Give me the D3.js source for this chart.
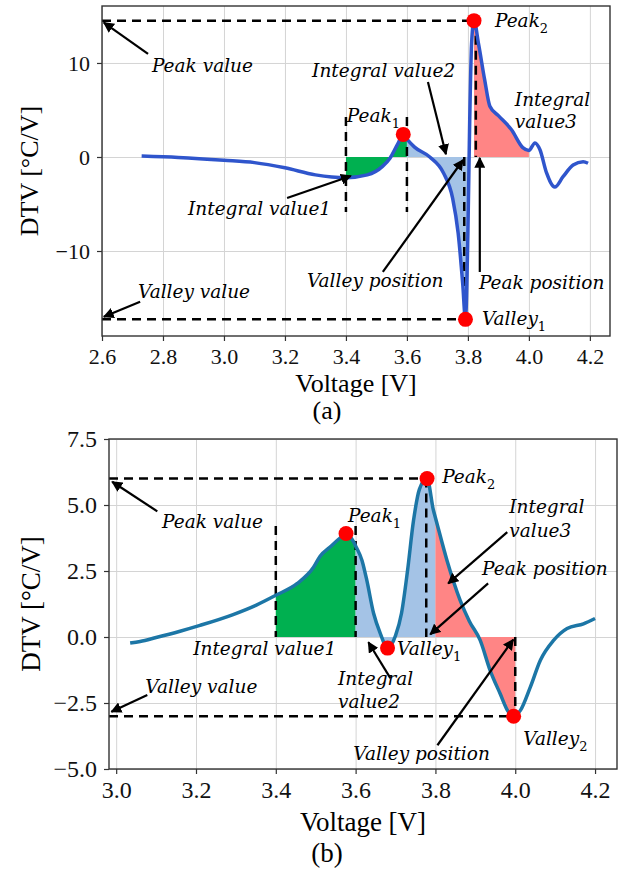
<!DOCTYPE html>
<html>
<head>
<meta charset="utf-8">
<script src="https://cdn.jsdelivr.net/npm/d3@7"></script>
<style>
  body { margin: 0; background: #fff; }
  .grid line { stroke: #d4d4d4; stroke-width: 1; }
  .grid path { display: none; }
  .axis path { display: none; }
  .axis line { stroke: #333; stroke-width: 1.2; }
</style>
</head>
<body>
<div id="chart"></div>
<script>
// ---- panel (a) data ----
const voltA = [2.73, 2.85, 3.0, 3.1, 3.2, 3.3, 3.4, 3.47, 3.52, 3.545, 3.57, 3.588, 3.6, 3.625,
  3.675, 3.72, 3.75, 3.768, 3.783, 3.792, 3.8, 3.806, 3.812, 3.82, 3.835, 3.855, 3.872, 3.9,
  3.943, 3.98, 4.0, 4.02, 4.036, 4.058, 4.085, 4.112, 4.145, 4.178, 4.194];
const dtvA = [0.1, -0.05, -0.35, -0.6, -1.15, -1.9, -2.2, -1.9, -1.0, -0.1, 1.4, 2.4, 1.9, 1.05,
  0.0, -1.7, -4.4, -8.1, -13.5, -17.27, -8, 4, 12, 14.5, 12, 8.2, 5.4, 4.4,
  2.9, 1.0, 0.7, 1.5, 0.8, -1.7, -3.2, -2.1, -0.85, -0.5, -0.67];
const xTicksA = [2.6, 2.8, 3.0, 3.2, 3.4, 3.6, 3.8, 4.0, 4.2];
const yTicksA = [-10, 0, 10];
const markersA = [[3.588, 2.4], [3.82, 14.5], [3.792, -17.27]];
const integralsA = [[3.4, 3.6], [3.6, 3.8], [3.82, 4.0]];
const guidesA = [
  [[2.6, 14.5], [3.82, 14.5]],
  [[2.6, -17.27], [3.792, -17.27]],
  [[3.4, 4.26], [3.4, -5.85]],
  [[3.6, 4.26], [3.6, -5.85]],
  [[3.788, 0], [3.788, -17.27]],
  [[3.826, 14.5], [3.826, 0]],
];
const labelsA = [
  ['Peak value', '', 2.764, 9.04],
  ['Integral value2', '', 3.289, 8.51],
  ['Peak', '1', 3.403, 3.72],
  ['Peak', '2', 3.889, 13.83],
  ['Integral', '', 3.954, 5.43],
  ['value3', '', 3.954, 3.09],
  ['Integral value1', '', 2.882, -6.17],
  ['Valley position', '', 3.272, -13.83],
  ['Peak position', '', 3.836, -14.04],
  ['Valley', '1', 3.846, -17.87],
  ['Valley value', '', 2.718, -15.0],
];
const arrowsA = [
  [2.751, 10.96, 2.606, 14.3],
  [3.669, 7.98, 3.728, 0.3],
  [3.207, -4.36, 3.416, -2.02],
  [3.521, -12.23, 3.784, -0.32],
  [3.839, -12.23, 3.839, -0.1],
  [2.725, -15.4, 2.606, -17.0],
];

// ---- panel (b) data ----
const voltB = [3.035, 3.06, 3.1, 3.16, 3.21, 3.293, 3.35, 3.4, 3.453, 3.495, 3.511, 3.536, 3.561,
  3.576, 3.595, 3.6, 3.616, 3.628, 3.645, 3.662, 3.68, 3.70, 3.715, 3.73, 3.745, 3.76, 3.779,
  3.795, 3.8, 3.829, 3.862, 3.885, 3.912, 3.937, 3.962, 3.983, 3.996, 4.0, 4.013, 4.038,
  4.063, 4.096, 4.13, 4.171, 4.2];
const dtvB = [-0.23, -0.17, -0.02, 0.22, 0.44, 0.85, 1.2, 1.58, 2.02, 2.65, 3.06, 3.41, 3.75,
  3.92, 3.6, 3.45, 2.9, 2.15, 0.9, 0.13, -0.42, 0.05, 0.9, 2.5, 4.4, 5.6, 6.0,
  4.8, 4.52, 2.9, 1.39, 0.6, -0.12, -1.26, -2.14, -2.84, -3.0, -2.98, -2.78, -1.89,
  -0.88, -0.13, 0.32, 0.5, 0.7];
const xTicksB = [3.0, 3.2, 3.4, 3.6, 3.8, 4.0, 4.2];
const yTicksB = [-5, -2.5, 0, 2.5, 5, 7.5];
const markersB = [[3.576, 3.92], [3.779, 6.0], [3.68, -0.42], [3.996, -3.0]];
const integralsB = [[3.4, 3.6], [3.6, 3.8], [3.8, 4.0]];
const guidesB = [
  [[2.982, 6.0], [3.779, 6.0]],
  [[2.982, -3.0], [3.996, -3.0]],
  [[3.4, 4.2], [3.4, 0]],
  [[3.6, 4.2], [3.6, 0]],
  [[3.777, 6.0], [3.777, 0]],
  [[4.0, 0], [4.0, -3.0]],
];
const labelsB = [
  ['Peak value', '', 3.115, 4.12],
  ['Peak', '1', 3.581, 4.34],
  ['Peak', '2', 3.817, 5.84],
  ['Integral', '', 3.985, 4.69],
  ['value3', '', 3.985, 3.78],
  ['Peak position', '', 3.917, 2.34],
  ['Integral value1', '', 3.193, -0.69],
  ['Valley', '1', 3.704, -0.69],
  ['Integral', '', 3.556, -1.83],
  ['value2', '', 3.556, -2.7],
  ['Valley value', '', 3.073, -2.13],
  ['Valley position', '', 3.594, -4.67],
  ['Valley', '2', 4.02, -4.1],
];
const arrowsB = [
  [3.103, 4.76, 2.99, 5.88],
  [3.98, 3.97, 3.832, 2.03],
  [3.932, 2.03, 3.787, 0.1],
  [3.687, -1.56, 3.632, -0.2],
  [3.078, -2.2, 2.988, -2.83],
  [3.805, -4.1, 3.995, -0.1],
];

const fillColors = ['#00b050', '#a4c3e6', '#ff8585'];

const svg = d3.select('#chart').append('svg')
  .attr('width', 626)
  .attr('height', 870);

svg.append('defs').append('marker')
  .attr('id', 'arrow')
  .attr('viewBox', '0 0 10 10')
  .attr('refX', 9)
  .attr('refY', 5)
  .attr('markerWidth', 5)
  .attr('markerHeight', 5)
  .attr('orient', 'auto')
  .append('path')
  .attr('d', 'M0,0 L10,5 L0,10 z')
  .attr('fill', '#000');

const drawPanel = (p) => {
  const width = p.right - p.left;
  const height = p.bottom - p.top;
  const g = svg.append('g').attr('transform', `translate(${p.left},${p.top})`);

  const x = d3.scaleLinear().domain(p.xDomain).range([0, width]);
  const y = d3.scaleLinear().domain(p.yDomain).range([height, 0]);

  // grid
  g.append('g').attr('class', 'grid')
    .attr('transform', `translate(0,${height})`)
    .call(d3.axisBottom(x).tickValues(p.xTicks).tickSize(-height).tickFormat(''));
  g.append('g').attr('class', 'grid')
    .call(d3.axisLeft(y).tickValues(p.yTicks).tickSize(-width).tickFormat(''));

  const pts = p.volt.map((v, i) => [v, p.dtv[i]]);

  // integral fills
  p.integrals.forEach((r, i) => {
    const sub = pts.filter((d) => d[0] >= r[0] - 1e-6 && d[0] <= r[1] + 1e-6);
    g.append('path')
      .datum(sub)
      .attr('fill', fillColors[i])
      .attr('d', d3.area().curve(d3.curveMonotoneX)
        .x((d) => x(d[0])).y0(y(0)).y1((d) => y(d[1])));
  });

  // dashed guides
  p.guides.forEach((l) => {
    g.append('line')
      .attr('x1', x(l[0][0])).attr('y1', y(l[0][1]))
      .attr('x2', x(l[1][0])).attr('y2', y(l[1][1]))
      .attr('stroke', '#000')
      .attr('stroke-width', 2.5)
      .attr('stroke-dasharray', '9,6');
  });

  // DTV curve
  g.append('path')
    .datum(pts)
    .attr('fill', 'none')
    .attr('stroke', p.color)
    .attr('stroke-width', 3.5)
    .attr('stroke-linejoin', 'round')
    .attr('d', d3.line().curve(d3.curveMonotoneX).x((d) => x(d[0])).y((d) => y(d[1])));

  g.selectAll('.pt')
    .data(p.markers)
    .enter().append('circle')
    .attr('cx', (d) => x(d[0]))
    .attr('cy', (d) => y(d[1]))
    .attr('r', 7.5)
    .attr('fill', '#ff0000');

  // arrows
  p.arrows.forEach((a) => {
    g.append('line')
      .attr('x1', x(a[0])).attr('y1', y(a[1]))
      .attr('x2', x(a[2])).attr('y2', y(a[3]))
      .attr('stroke', '#000')
      .attr('stroke-width', 2.2)
      .attr('marker-end', 'url(#arrow)');
  });

  // annotation text
  p.labels.forEach((l) => {
    const t = g.append('text')
      .attr('x', x(l[2]))
      .attr('y', y(l[3]))
      .attr('font-family', 'DejaVu Serif')
      .attr('font-style', 'italic')
      .attr('font-size', '18.5px')
      .attr('fill', '#000')
      .text(l[0]);
    if (l[1]) {
      t.append('tspan')
        .attr('dy', 6)
        .attr('font-size', '13px')
        .attr('font-style', 'normal')
        .text(l[1]);
    }
  });

  // frame
  g.append('rect')
    .attr('width', width).attr('height', height)
    .attr('fill', 'none').attr('stroke', '#333').attr('stroke-width', 1.4);

  // axes
  const xa = g.append('g').attr('class', 'axis')
    .attr('transform', `translate(0,${height})`)
    .call(d3.axisBottom(x).tickValues(p.xTicks).tickSize(5).tickPadding(7)
      .tickFormat(d3.format('.1f')));
  const ya = g.append('g').attr('class', 'axis')
    .call(d3.axisLeft(y).tickValues(p.yTicks).tickSize(5).tickPadding(7)
      .tickFormat(p.yFormat));
  [xa, ya].forEach((a) => a.selectAll('text')
    .attr('font-family', 'Liberation Serif')
    .attr('font-size', p.tickSize)
    .attr('fill', '#111'));

  g.append('text')
    .attr('x', width / 2)
    .attr('y', p.xLabelY - p.top)
    .attr('text-anchor', 'middle')
    .attr('font-family', 'Liberation Serif')
    .attr('font-size', p.labelSize)
    .text('Voltage [V]');
  g.append('text')
    .attr('transform', `translate(${p.yLabelX - p.left},${height / 2}) rotate(-90)`)
    .attr('text-anchor', 'middle')
    .attr('font-family', 'Liberation Serif')
    .attr('font-size', p.labelSize)
    .text('DTV [°C/V]');
  svg.append('text')
    .attr('x', 327)
    .attr('y', p.captionY)
    .attr('text-anchor', 'middle')
    .attr('font-family', 'Liberation Serif')
    .attr('font-size', p.labelSize)
    .text(p.caption);
};

drawPanel({
  left: 102, right: 610, top: 6, bottom: 336,
  xDomain: [2.6, 4.266], yDomain: [-19.04, 16.06],
  volt: voltA, dtv: dtvA, xTicks: xTicksA, yTicks: yTicksA,
  yFormat: (d) => d3.format('d')(d),
  markers: markersA, integrals: integralsA, guides: guidesA,
  labels: labelsA, arrows: arrowsA,
  color: '#2f55cc', tickSize: '22px', labelSize: '26px',
  xLabelY: 392, yLabelX: 38, caption: '(a)', captionY: 419,
});

drawPanel({
  left: 109, right: 617, top: 439, bottom: 769,
  xDomain: [2.982, 4.255], yDomain: [-5, 7.5],
  volt: voltB, dtv: dtvB, xTicks: xTicksB, yTicks: yTicksB,
  yFormat: (d) => d3.format('.1f')(d).replace('-', '−'),
  markers: markersB, integrals: integralsB, guides: guidesB,
  labels: labelsB, arrows: arrowsB,
  color: '#1c76a6', tickSize: '24px', labelSize: '27px',
  xLabelY: 831, yLabelX: 40, caption: '(b)', captionY: 862,
});
</script>
</body>
</html>
